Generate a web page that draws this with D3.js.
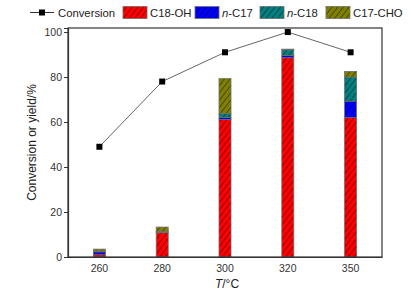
<!DOCTYPE html>
<html>
<head>
<meta charset="utf-8">
<script src="https://cdn.jsdelivr.net/npm/d3@7"></script>
<style>
  body { margin: 0; background: #fff; }
  svg { display: block; font-family: Arial, "Liberation Sans", sans-serif; }
</style>
</head>
<body>
<div id="chart"></div>
<script>
// données
const temps = ["260", "280", "300", "320", "350"];
const conversion = [49, 78, 91, 100, 91];
const c18oh = [1.0, 10.8, 61.1, 88.6, 62.0];
const nc17 = [1.3, 0.3, 1.0, 1.0, 7.3];
const nc18 = [0.3, 0.3, 1.6, 2.5, 10.7];
const c17cho = [0.9, 1.9, 15.6, 0.3, 2.5];
const yTicks = [0, 20, 40, 60, 80, 100];

const seriesNames = ["C18-OH", "n-C17", "n-C18", "C17-CHO"];
const seriesColors = ["#ff0000", "#0000ff", "#008080", "#808000"];

const width = 411, height = 298;
const margin = { left: 68, right: 29, top: 28, bottom: 41 };

const svg = d3.select("#chart").append("svg")
  .attr("width", width)
  .attr("height", height);

// motifs hachurés
const defs = svg.append("defs");
seriesColors.forEach((c, i) => {
  const p = defs.append("pattern")
    .attr("id", `hatch${i}`)
    .attr("patternUnits", "userSpaceOnUse")
    .attr("width", 4.5)
    .attr("height", 4.5)
    .attr("patternTransform", "rotate(38)");
  p.append("rect").attr("width", 4.5).attr("height", 4.5).attr("fill", c);
  p.append("line")
    .attr("x1", 0.5).attr("y1", 0).attr("x2", 0.5).attr("y2", 4.5)
    .attr("stroke", "#000").attr("stroke-opacity", 0.55).attr("stroke-width", 0.8);
});

const x = d3.scaleBand()
  .domain(temps)
  .range([margin.left, width - margin.right])
  .padding(0);

const y = d3.scaleLinear()
  .domain([0, 101.8])
  .range([height - margin.bottom, margin.top]);

// empilement
const rows = temps.map((t, i) => ({
  t, "C18-OH": c18oh[i], "n-C17": nc17[i], "n-C18": nc18[i], "C17-CHO": c17cho[i]
}));
const stacked = d3.stack().keys(seriesNames)(rows);

const barW = 12;
stacked.forEach((s, i) => {
  svg.append("g")
    .selectAll("rect")
    .data(s)
    .join("rect")
    .attr("x", d => x(d.data.t) + x.bandwidth() / 2 - barW / 2)
    .attr("y", d => y(d[1]))
    .attr("width", barW)
    .attr("height", d => y(d[0]) - y(d[1]))
    .attr("fill", `url(#hatch${i})`)
    .attr("stroke", "#6e6e6e")
    .attr("stroke-width", 0.8);
});

// cadre
svg.append("rect")
  .attr("x", margin.left)
  .attr("y", margin.top)
  .attr("width", width - margin.left - margin.right)
  .attr("height", height - margin.top - margin.bottom)
  .attr("fill", "none")
  .attr("stroke", "#333")
  .attr("stroke-width", 1.2);

// axes
const yAxis = svg.append("g")
  .attr("transform", `translate(${margin.left},0)`)
  .call(d3.axisLeft(y).tickValues(yTicks).tickSize(4).tickPadding(2));
yAxis.select(".domain").attr("stroke", "#333").attr("stroke-width", 1.2);
yAxis.selectAll(".tick line").attr("stroke", "#333");
yAxis.selectAll("text").attr("font-size", 10.5).attr("fill", "#333").attr("font-family", "Arial, 'Liberation Sans', sans-serif");

const xAxis = svg.append("g")
  .attr("transform", `translate(0,${height - margin.bottom})`)
  .call(d3.axisBottom(x).tickSize(0).tickPadding(8));
xAxis.select(".domain").attr("stroke", "#333").attr("stroke-width", 1.2);
xAxis.selectAll("text").attr("font-size", 10.5).attr("fill", "#333").attr("font-family", "Arial, 'Liberation Sans', sans-serif");

// courbe de conversion
const line = d3.line()
  .x((d, i) => x(temps[i]) + x.bandwidth() / 2)
  .y(d => y(d));

svg.append("path")
  .attr("d", line(conversion))
  .attr("fill", "none")
  .attr("stroke", "#666")
  .attr("stroke-width", 1);

svg.append("g")
  .selectAll("rect")
  .data(conversion)
  .join("rect")
  .attr("x", (d, i) => x(temps[i]) + x.bandwidth() / 2 - 3)
  .attr("y", d => y(d) - 3)
  .attr("width", 6)
  .attr("height", 6)
  .attr("fill", "#000");

// titres des axes
svg.append("text")
  .attr("transform", `translate(36,${(margin.top + height - margin.bottom) / 2}) rotate(-90)`)
  .attr("text-anchor", "middle")
  .attr("font-size", 12)
  .attr("fill", "#222")
  .text("Conversion or yield/%");

const xl = svg.append("text")
  .attr("x", x.range()[0] + (x.range()[1] - x.range()[0]) / 2 + 2)
  .attr("y", 288)
  .attr("text-anchor", "middle")
  .attr("font-size", 12)
  .attr("fill", "#222");
xl.append("tspan").attr("font-style", "italic").text("T");
xl.append("tspan").text("/°C");

// légende
const legY = 12.5;
const legFont = 11.3;
const leg = svg.append("g");
leg.append("line")
  .attr("x1", 30).attr("x2", 54).attr("y1", legY).attr("y2", legY)
  .attr("stroke", "#333").attr("stroke-width", 1);
leg.append("rect")
  .attr("x", 39).attr("y", legY - 3).attr("width", 6).attr("height", 6)
  .attr("fill", "#000");
leg.append("text")
  .attr("x", 58).attr("y", legY + 4.2)
  .attr("font-size", legFont).attr("fill", "#222")
  .text("Conversion");

const legX = [123, 195, 260, 326];
seriesNames.forEach((name, i) => {
  leg.append("rect")
    .attr("x", legX[i]).attr("y", legY - 6)
    .attr("width", 24).attr("height", 12)
    .attr("fill", `url(#hatch${i})`)
    .attr("stroke", "#6e6e6e").attr("stroke-width", 0.8);
  const t = leg.append("text")
    .attr("x", legX[i] + 27).attr("y", legY + 4.2)
    .attr("font-size", legFont).attr("fill", "#222");
  if (name.startsWith("n-")) {
    t.append("tspan").attr("font-style", "italic").text("n");
    t.append("tspan").text(name.slice(1));
  } else {
    t.text(name);
  }
});
</script>
</body>
</html>
